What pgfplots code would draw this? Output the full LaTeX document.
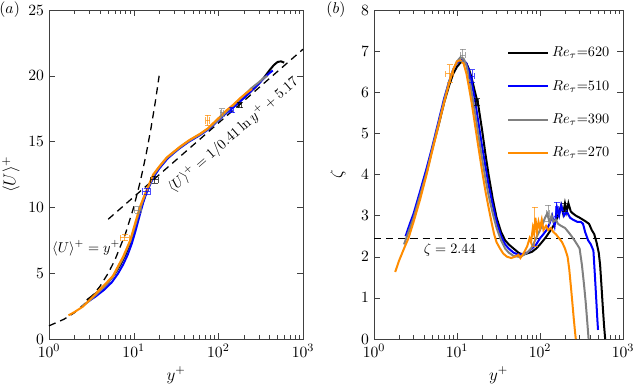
\documentclass[border=0pt]{standalone}
\usepackage{pgfplots}
\pgfplotsset{compat=1.18}
\definecolor{cO}{rgb}{1,0.55,0}
\definecolor{cB}{rgb}{0,0,1}
\definecolor{cG}{rgb}{0.5,0.5,0.5}
\definecolor{cK}{rgb}{0,0,0}
\tikzset{
  mylinestyle/.style={line width=1.4pt},
  mydashstyle/.style={black, line width=0.9pt, dash pattern=on 5pt off 3.5pt},
}
\pgfplotsset{every axis/.append style={
  tick label style={font=\fontsize{11}{13}\selectfont},
  label style={font=\fontsize{11.5}{13}\selectfont}},
  error bars/error mark options={mark size=2.2pt, line width=0.7pt, rotate=90},
  error bars/error bar style={line width=0.7pt}}
\begin{document}
\begin{tikzpicture}
\useasboundingbox (0,0) rectangle (443.8pt,271.6pt);
% ---------------- (a)
\begin{axis}[xmode=log, xmin=1, xmax=1000, scale only axis,
  xtick={1,10,100,1000}, axis line style={black!75}, tick style={black!75},
  xlabel={$y^+$}, clip=false,
  at={(34.3pt,34.3pt)}, anchor=south west,
  width=177.8pt, height=230.3pt,
  ymin=0, ymax=25, ytick={0,5,10,15,20,25}]
\addplot[mydashstyle, forget plot] coordinates {(1,1)(1.5,1.5)(2,2)(3,3)(4,4)(5,5)(6,6)(8,8)(10,10)(12,12)(14,14)(16,16)(18,18)(20,20)};
\addplot[mydashstyle, forget plot] coordinates {(5,9.10)(1000,22.02)};
\addplot[mylinestyle, cK] coordinates {(2.8,2.95)(3.3,3.3)(4,3.7)(5,4.3)(6,4.95)(7,5.65)(8,6.4)(9,7.2)(10,8.1)(11,9.0)(12,9.8)(13,10.5)(14,11.1)(16,11.95)(18,12.6)(20,13.0)(25,13.75)(30,14.2)(35,14.55)(45,15.05)(61,15.55)(75,15.95)(87,16.3)(105,16.8)(126,17.3)(150,17.7)(181,18.1)(215,18.5)(250,18.9)(300,19.4)(350,19.9)(400,20.4)(450,20.8)(500,21.05)(550,21.1)(600,21.0)};
\addplot[mylinestyle, cB] coordinates {(2.9,2.85)(3.5,3.2)(4.5,3.75)(5.5,4.3)(6.5,4.95)(7.5,5.65)(8.5,6.4)(9.5,7.25)(10.5,8.2)(12,9.6)(13,10.4)(14,11.0)(16,11.9)(18,12.5)(20,12.95)(25,13.7)(30,14.15)(35,14.5)(45,15.0)(61,15.5)(75,15.9)(87,16.25)(105,16.75)(126,17.2)(150,17.6)(181,18.05)(215,18.5)(250,18.9)(300,19.4)(350,19.85)(400,20.2)(440,20.4)};
\addplot[mylinestyle, cG] coordinates {(2.5,2.5)(3,2.9)(3.7,3.45)(4.5,4.0)(5.7,4.75)(6.5,5.4)(7.5,6.15)(8.3,6.8)(9.1,7.4)(10.4,8.6)(11.8,9.8)(13,10.6)(14.4,11.3)(17,12.4)(20,13.05)(24.6,13.75)(30,14.2)(35,14.55)(45,15.05)(61,15.55)(75,15.95)(87,16.3)(105,16.8)(126,17.3)(150,17.75)(181,18.25)(215,18.7)(250,19.1)(300,19.5)(340,19.8)(380,20.0)};
\addplot[mylinestyle, cO] coordinates {(1.7,1.8)(2,2.05)(2.5,2.45)(3,2.95)(3.7,3.55)(4.5,4.1)(5.7,4.8)(6.5,5.5)(7.5,6.25)(8.3,6.9)(9.1,7.5)(10.4,8.8)(11.8,10.0)(13,10.7)(14.4,11.4)(17,12.5)(20,13.1)(24.6,13.8)(30,14.25)(35,14.6)(45,15.1)(61,15.6)(75,16.0)(87,16.4)(105,16.9)(126,17.4)(150,17.8)(181,18.3)(215,18.7)(250,19.0)};
% error bars
\addplot[cO, opacity=0.7, forget plot, mark=none, error bars/.cd, x dir=both, x explicit, y dir=both, y explicit] coordinates {(7.9,7.7) +- (1.0,0.25)};
\addplot[cG, opacity=0.7, forget plot, mark=none, error bars/.cd, x dir=both, x explicit, y dir=both, y explicit] coordinates {(11.3,9.8) +- (1.2,0.25)};
\addplot[cB, opacity=0.7, forget plot, mark=none, error bars/.cd, x dir=both, x explicit, y dir=both, y explicit] coordinates {(14.3,11.2) +- (1.5,0.25)};
\addplot[cK, opacity=0.7, forget plot, mark=none, error bars/.cd, x dir=both, x explicit, y dir=both, y explicit] coordinates {(17.8,12.1) +- (1.8,0.25)};
\addplot[cO, opacity=0.7, forget plot, mark=none, error bars/.cd, x dir=both, x explicit, y dir=both, y explicit] coordinates {(75,16.6) +- (4,0.4)};
\addplot[cG, opacity=0.7, forget plot, mark=none, error bars/.cd, x dir=both, x explicit, y dir=both, y explicit] coordinates {(110,17.2) +- (5,0.3)};
\addplot[cB, opacity=0.7, forget plot, mark=none, error bars/.cd, x dir=both, x explicit, y dir=both, y explicit] coordinates {(145,17.4) +- (6,0.2)};
\addplot[cK, opacity=0.7, forget plot, mark=none, error bars/.cd, x dir=both, x explicit, y dir=both, y explicit] coordinates {(180,17.8) +- (6,0.2)};
\node at (axis cs:2.75,6.9) {$\langle U\rangle^+=y^+$};
\node[rotate=41] at (axis cs:150,15.5) {$\langle U\rangle^+=1/0.41\ln y^+ + 5.17$};
\node[font=\fontsize{11}{13}\selectfont] at (rel axis cs:-0.155,1) {$(a)$};
\node[rotate=90, font=\fontsize{11.5}{13}\selectfont] at (rel axis cs:-0.15,0.5) {$\langle U\rangle^+$};
\end{axis}
% ---------------- (b)
\begin{axis}[xmode=log, xmin=1, xmax=1000, scale only axis,
  xtick={1,10,100,1000}, axis line style={black!75}, tick style={black!75},
  xlabel={$y^+$}, clip=false,
  at={(261.8pt,34.3pt)}, anchor=south west,
  width=174.3pt, height=230.3pt,
  ymin=0, ymax=8, ytick={0,1,...,8},
  legend style={at={(rel axis cs:0.975,0.906)}, anchor=north east, draw=none, fill=none,
    row sep=11pt, font=\normalsize},
  legend cell align=left,
  legend image code/.code={\draw[#1] (0pt,0pt) -- (28pt,0pt);}]
\addplot[mydashstyle, forget plot] coordinates {(1,2.44)(1000,2.44)};
\addplot[mylinestyle, cK] coordinates {(2.6,2.6)(3,2.95)(3.6,3.5)(4.3,4.05)(5,4.6)(6,5.2)(7,5.75)(8,6.15)(9,6.45)(10,6.62)(11,6.72)(12,6.75)(13,6.7)(14,6.55)(15,6.35)(16.5,6.0)(18,5.7)(20,5.1)(22,4.5)(24,4.0)(27,3.4)(30,2.95)(34,2.6)(38,2.4)(42,2.3)(48,2.2)(55,2.1)(62,2.05)(70,2.08)(80,2.12)(90,2.2)(100,2.3)(110,2.4)(120,2.5)(135,2.65)(150,2.8)(165,3.0)(180,3.25)(190,3.05)(200,3.3)(210,3.1)(220,3.3)(235,3.1)(250,3.05)(270,3.0)(300,2.95)(330,2.9)(360,2.85)(390,2.8)(420,2.65)(450,2.55)(480,2.35)(510,2.1)(530,1.8)(550,1.3)(570,0.8)(590,0.35)(610,0)};
\addlegendentry{$Re_\tau$=620}
\addplot[mylinestyle, cB] coordinates {(2.4,2.5)(2.7,2.8)(3,3.05)(3.6,3.6)(4.3,4.15)(5,4.65)(6,5.3)(7,5.85)(8,6.25)(9,6.55)(10,6.72)(11,6.78)(12,6.78)(13,6.7)(14,6.5)(15,6.25)(16.5,5.8)(18,5.3)(20,4.7)(22,4.2)(24,3.75)(27,3.25)(30,2.85)(34,2.5)(38,2.3)(42,2.2)(48,2.1)(55,2.05)(62,2.07)(70,2.1)(80,2.2)(90,2.3)(100,2.45)(110,2.55)(120,2.65)(130,2.8)(140,3.0)(150,2.75)(160,3.2)(170,3.0)(180,3.25)(195,3.0)(210,3.1)(230,2.95)(250,2.9)(280,2.85)(310,2.85)(330,2.8)(350,2.6)(380,2.4)(410,2.3)(440,2.15)(460,1.5)(475,1.0)(490,0.5)(500,0.22)};
\addlegendentry{$Re_\tau$=510}
\addplot[mylinestyle, cG] coordinates {(2.3,2.3)(2.6,2.6)(3,2.95)(3.6,3.5)(4.3,4.05)(5,4.6)(6,5.25)(7,5.8)(8,6.25)(9,6.55)(10,6.75)(11,6.85)(12,6.82)(13,6.65)(14,6.35)(15,6.0)(16.5,5.5)(18,5.0)(20,4.4)(22,3.9)(24,3.5)(27,3.05)(30,2.7)(34,2.4)(38,2.2)(42,2.1)(48,2.02)(55,2.0)(62,2.03)(70,2.1)(78,2.2)(85,2.35)(92,2.5)(100,2.65)(108,2.8)(115,2.95)(122,3.05)(130,2.85)(138,3.0)(145,2.85)(155,2.9)(165,2.8)(180,2.75)(200,2.7)(220,2.6)(240,2.5)(260,2.4)(280,2.3)(300,2.2)(320,1.8)(340,1.3)(355,0.9)(365,0.6)(375,0.3)(385,0)};
\addlegendentry{$Re_\tau$=390}
\addplot[mylinestyle, cO] coordinates {(1.8,1.63)(2.0,1.9)(2.3,2.2)(2.6,2.45)(3,2.85)(3.6,3.4)(4.3,4.0)(5,4.55)(6,5.2)(7,5.75)(8,6.2)(9,6.55)(10,6.75)(11,6.78)(12,6.7)(13,6.45)(14,6.1)(15,5.75)(16.5,5.2)(18,4.7)(20,4.1)(22,3.6)(24,3.2)(26,2.85)(28,2.55)(30,2.35)(33,2.2)(36,2.08)(40,2.0)(45,1.97)(50,2.0)(55,2.05)(58,1.97)(62,2.05)(66,2.15)(70,2.25)(75,2.45)(78,2.35)(82,2.7)(85,2.55)(88,2.95)(92,2.6)(96,2.85)(100,2.7)(105,2.9)(110,2.65)(118,2.75)(125,2.65)(135,2.7)(145,2.6)(155,2.55)(170,2.45)(185,2.35)(200,2.2)(215,2.0)(225,1.7)(235,1.3)(245,0.9)(255,0.5)(265,0.15)(270,0)};
\addlegendentry{$Re_\tau$=270}
\addplot[cO, opacity=0.7, forget plot, mark=none, error bars/.cd, x dir=both, x explicit, y dir=both, y explicit] coordinates {(8.2,6.45) +- (0.9,0.22)};
\addplot[cG, opacity=0.7, forget plot, mark=none, error bars/.cd, x dir=both, x explicit, y dir=both, y explicit] coordinates {(11.8,6.9) +- (0.8,0.15)};
\addplot[cB, opacity=0.7, forget plot, mark=none, error bars/.cd, x dir=both, x explicit, y dir=both, y explicit] coordinates {(15.2,6.39) +- (0.9,0.16)};
\addplot[cK, opacity=0.7, forget plot, mark=none, error bars/.cd, x dir=both, x explicit, y dir=both, y explicit] coordinates {(17.4,5.77) +- (0.8,0.08)};
\addplot[cO, opacity=0.7, forget plot, mark=none, error bars/.cd, x dir=both, x explicit, y dir=both, y explicit] coordinates {(87,2.72) +- (3,0.48)};
\addplot[cG, opacity=0.7, forget plot, mark=none, error bars/.cd, x dir=both, x explicit, y dir=both, y explicit] coordinates {(125,3.05) +- (4,0.2)};
\addplot[cB, opacity=0.7, forget plot, mark=none, error bars/.cd, x dir=both, x explicit, y dir=both, y explicit] coordinates {(160,3.15) +- (5,0.18)};
\addplot[cK, opacity=0.7, forget plot, mark=none, error bars/.cd, x dir=both, x explicit, y dir=both, y explicit] coordinates {(200,3.2) +- (5,0.1)};
\node at (axis cs:8.2,2.17) {$\zeta=2.44$};
\node[font=\fontsize{11}{13}\selectfont] at (rel axis cs:-0.153,1) {$(b)$};
\node[rotate=90, font=\fontsize{11.5}{13}\selectfont] at (rel axis cs:-0.145,0.5) {$\zeta$};
\end{axis}
\end{tikzpicture}
\end{document}
